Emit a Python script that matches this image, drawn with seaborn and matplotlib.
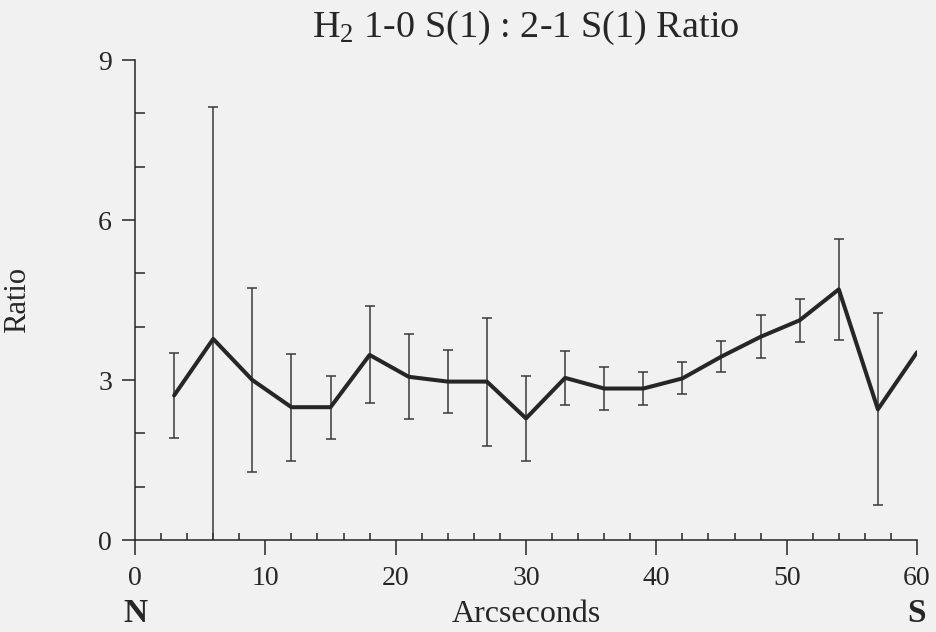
import matplotlib
matplotlib.use("Agg")
import matplotlib.pyplot as plt
from matplotlib.ticker import MultipleLocator
import matplotlib.transforms as mtransforms
import seaborn as sns
import pandas as pd

# Slit positions (arcsec from the northern end) and measured line ratios
arcsec = [3, 6, 9, 12, 15, 18, 21, 24, 27, 30, 33, 36, 39, 42, 45, 48, 51, 54, 57, 60]
ratio = [2.71, 3.77, 3.00, 2.49, 2.49, 3.47, 3.06, 2.97, 2.97, 2.28,
         3.04, 2.84, 2.84, 3.03, 3.44, 3.81, 4.12, 4.70, 2.45, 3.52]
# 1-sigma uncertainties (the last position has no error estimate)
ratio_err = [0.80, 4.35, 1.72, 1.00, 0.59, 0.91, 0.80, 0.59, 1.20, 0.80,
             0.50, 0.40, 0.31, 0.30, 0.29, 0.40, 0.40, 0.95, 1.80]

x_ticks = [0, 10, 20, 30, 40, 50, 60]
y_ticks = [0, 3, 6, 9]

df = pd.DataFrame({"Arcseconds": arcsec, "Ratio": ratio})

sns.set_style("ticks")
plt.rcParams["font.family"] = ["Liberation Serif", "DejaVu Serif"]
plt.rcParams["mathtext.fontset"] = "custom"
plt.rcParams["mathtext.rm"] = "Liberation Serif"
plt.rcParams["mathtext.it"] = "Liberation Serif:italic"

bg = "#f1f1f1"
ink = "#262626"

fig = plt.figure(figsize=(9.37, 6.32), dpi=100, facecolor=bg)
W, H = 937, 632
ax = fig.add_axes([135 / W, (H - 540) / H, (917 - 135) / W, (540 - 60) / H])
ax.set_facecolor(bg)

# error bars first, then the profile on top
n_err = len(ratio_err)
ax.errorbar(arcsec[:n_err], ratio[:n_err], yerr=ratio_err, fmt="none",
            ecolor="#3a3a3a", elinewidth=1.1, capsize=3.8, capthick=1.1, zorder=2)
sns.lineplot(data=df, x="Arcseconds", y="Ratio", ax=ax, color=ink,
             linewidth=2.9, zorder=3)

ax.set_xlim(0, 60)
ax.set_ylim(0, 9)
ax.set_xticks(x_ticks)
ax.set_yticks(y_ticks)
ax.xaxis.set_minor_locator(MultipleLocator(2))
ax.yaxis.set_minor_locator(MultipleLocator(1))

for s in ("top", "right"):
    ax.spines[s].set_visible(False)
for s in ("left", "bottom"):
    ax.spines[s].set_linewidth(1.1)
    ax.spines[s].set_color(ink)

ax.tick_params(axis="x", which="major", direction="out", length=10.5, width=1.1,
               color=ink, labelsize=20, labelcolor=ink, pad=8)
ax.tick_params(axis="x", which="minor", direction="in", length=5, width=1.1, color=ink)
ax.tick_params(axis="y", which="major", direction="out", length=9.5, width=1.1,
               color=ink, labelsize=20, labelcolor=ink, pad=7)
ax.tick_params(axis="y", which="minor", direction="in", length=7, width=1.1, color=ink)

ax.set_xlabel("Arcseconds", fontsize=23, color=ink)
ax.xaxis.set_label_coords(0.5, -0.125)
ax.set_ylabel("Ratio", fontsize=22, color=ink)
ax.yaxis.set_label_coords(-0.131, 0.5)
ax.set_title(r"H$_2$ 1-0 S(1) : 2-1 S(1) Ratio", fontsize=27.5, color=ink, pad=17)

# compass directions under the ends of the slit
trans = mtransforms.blended_transform_factory(ax.transData, fig.transFigure)
ax.text(0, 1 - 614 / H, "N", transform=trans, ha="center", va="center",
        fontsize=24, fontweight="bold", color=ink)
ax.text(60, 1 - 614 / H, "S", transform=trans, ha="center", va="center",
        fontsize=24, fontweight="bold", color=ink)

fig.savefig("out.png", dpi=100, facecolor=bg)
